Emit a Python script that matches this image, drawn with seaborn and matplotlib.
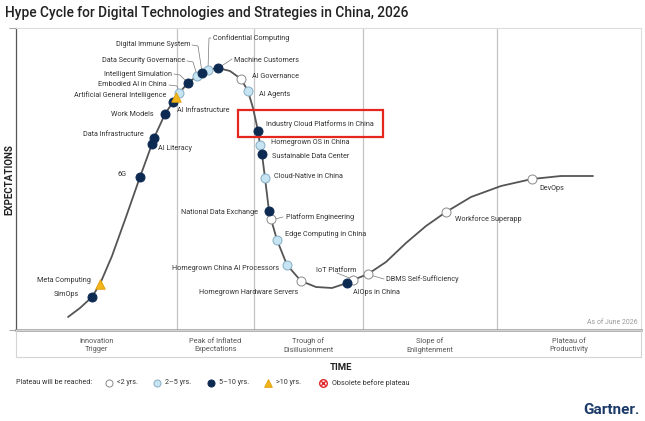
import matplotlib
matplotlib.use("Agg")
import matplotlib.pyplot as plt
from matplotlib.patches import Rectangle
import pandas as pd
import seaborn as sns

# hype curve (time position, expectation level)
curve_x = [52, 64, 76, 84, 96, 110, 124, 136, 138, 149, 157, 160, 163, 172, 181, 186, 192, 202,
           214, 225, 232, 237, 242, 244, 246, 249, 253, 255, 261, 271, 285, 300, 316, 331, 337,
           352, 370, 390, 410, 430, 455, 485, 516, 545, 577]
curve_y = [13, 22, 33, 46, 74, 113, 153, 186, 192, 216, 228, 233, 237, 247, 254, 257, 260, 262,
           259, 251, 239, 222, 199, 185, 176, 152, 119, 111, 90, 65, 49, 43, 42, 47, 50,
           56, 68, 87, 104, 118, 133, 144, 151, 154, 154]

tech_names = [
    "SimOps", "Meta Computing", "6G", "AI Literacy", "Data Infrastructure", "Work Models",
    "AI Infrastructure", "Artificial General Intelligence", "Embodied AI in China",
    "Intelligent Simulation", "Data Security Governance", "Digital Immune System",
    "Confidential Computing", "Machine Customers", "AI Governance", "AI Agents",
    "Industry Cloud Platforms in China", "Homegrown OS in China", "Sustainable Data Center",
    "Cloud-Native in China", "National Data Exchange", "Platform Engineering",
    "Edge Computing in China", "Homegrown China AI Processors", "Homegrown Hardware Servers",
    "AIOps in China", "IoT Platform", "DBMS Self-Sufficiency", "Workforce Superapp", "DevOps",
]
tech_x = [76, 84, 124, 136, 138, 149, 157, 160, 163, 172, 181, 186, 192, 202, 225, 232,
          242, 244, 246, 249, 253, 255, 261, 271, 285, 331, 337, 352, 430, 516]
tech_y = [33, 46, 153, 186, 192, 216, 228, 233, 237, 247, 254, 257, 260, 262, 251, 239,
          199, 185, 176, 152, 119, 111, 90, 65, 49, 47, 50, 56, 118, 151]
plateau = ["5-10", ">10", "5-10", "5-10", "5-10", "5-10", "5-10", ">10", "2-5", "5-10",
           "2-5", "5-10", "2-5", "5-10", "<2", "2-5", "5-10", "2-5", "5-10", "2-5",
           "5-10", "<2", "2-5", "2-5", "<2", "5-10", "<2", "<2", "<2", "<2"]

phases = ["Innovation\nTrigger", "Peak of Inflated\nExpectations", "Trough of\nDisillusionment",
          "Slope of\nEnlightenment", "Plateau of\nProductivity"]
phase_edges = [0, 161, 238, 347, 481, 625]

# label placement: (x, y, ha)
label_pos = {
    "SimOps": (63, 35, "right"), "Meta Computing": (75, 50, "right"), "6G": (111, 155, "right"),
    "AI Literacy": (142, 182, "left"), "Data Infrastructure": (128, 196, "right"),
    "Work Models": (138, 215, "right"), "Artificial General Intelligence": (150, 235, "right"),
    "AI Infrastructure": (161, 219, "left"), "Embodied AI in China": (151, 246, "right"),
    "Intelligent Simulation": (156, 256, "right"), "Data Security Governance": (169, 269, "right"),
    "Digital Immune System": (174, 285, "right"), "Confidential Computing": (197, 292, "left"),
    "Machine Customers": (218, 270, "left"), "AI Governance": (236, 253, "left"),
    "AI Agents": (243, 236, "left"), "Industry Cloud Platforms in China": (250, 206, "left"),
    "Homegrown OS in China": (255, 187, "left"), "Sustainable Data Center": (256, 173, "left"),
    "Cloud-Native in China": (258, 154, "left"), "National Data Exchange": (242, 117, "right"),
    "Platform Engineering": (270, 113, "left"), "Edge Computing in China": (269, 96, "left"),
    "Homegrown China AI Processors": (263, 62, "right"), "Homegrown Hardware Servers": (282, 38, "right"),
    "IoT Platform": (300, 59, "left"), "AIOps in China": (337, 38, "left"),
    "DBMS Self-Sufficiency": (370, 51, "left"), "Workforce Superapp": (439, 111, "left"),
    "DevOps": (523, 141, "left"),
}
leaders = [
    [(153, 245), (161, 244), (163, 238)],
    [(158, 256), (164, 255), (171, 248)],
    [(171, 269), (177, 268), (181, 255)],
    [(176, 285), (182, 284), (186, 258)],
    [(195, 292), (193, 292), (192, 261)],
    [(216, 271), (204, 263)],
    [(259, 111), (267, 113)],
    [(321, 57), (336, 51)],
    [(368, 51), (354, 55)],
]

styles = {
    "<2": dict(marker="o", color="white", edgecolor="#8a8a8a"),
    "2-5": dict(marker="o", color="#c6e4f2", edgecolor="#86aec4"),
    "5-10": dict(marker="o", color="#0d2a52", edgecolor="#0d2a52"),
    ">10": dict(marker="^", color="#f2b61c", edgecolor="#e0a20e"),
}

sns.set_theme(style="white")
plt.rcParams["font.family"] = ["Roboto", "DejaVu Sans"]

W, H = 645, 421
fig = plt.figure(figsize=(W / 100, H / 100), dpi=100)
ax = fig.add_axes([16 / W, (H - 330) / H, 625 / W, 302 / H])

sns.lineplot(x=curve_x, y=curve_y, sort=False, estimator=None, color="#555555", lw=1.3, ax=ax, zorder=2)

df = pd.DataFrame({"name": tech_names, "x": tech_x, "y": tech_y, "plateau": plateau})
for cat in ["<2", "2-5", "5-10", ">10"]:
    grp = df[df["plateau"] == cat]
    st = styles[cat]
    sns.scatterplot(data=grp, x="x", y="y", marker=st["marker"], color=st["color"],
                    edgecolor=st["edgecolor"], linewidth=0.7, s=42 if st["marker"] == "o" else 46,
                    ax=ax, zorder=4)

for name in tech_names:
    lx, ly, ha = label_pos[name]
    ax.text(lx, ly, name, ha=ha, va="center", fontsize=5.2, color="#333333")

for pts in leaders:
    ax.plot([p[0] for p in pts], [p[1] for p in pts], color="#777777", lw=0.5, zorder=1)

for xe in phase_edges[1:-1]:
    ax.axvline(xe, color="#c4c4c4", lw=0.9, zorder=0)

ax.add_patch(Rectangle((222, 193), 145, 27, fill=False, edgecolor="#e5261f", lw=1.6, zorder=5))

ax.set_xlim(0, 625)
ax.set_ylim(0, 302)
ax.set_xlabel("")
ax.set_ylabel("")
ax.set_xticks([])
ax.set_yticks([0, 302])
ax.set_yticklabels([])
ax.tick_params(axis="y", left=True, length=5, color="#aaaaaa", width=0.8)
ax.spines["left"].set_color("#555555")
ax.spines["left"].set_linewidth(0.9)
ax.spines["bottom"].set_color("#9a9a9a")
ax.spines["bottom"].set_linewidth(1.8)
for s in ["top", "right"]:
    ax.spines[s].set_color("#dddddd")
    ax.spines[s].set_linewidth(0.8)

# overlay in pixel coordinates for surrounding text
ov = fig.add_axes([0, 0, 1, 1], facecolor="none")
ov.set_xlim(0, W)
ov.set_ylim(H, 0)
ov.axis("off")

ov.text(5, 13, "Hype Cycle for Digital Technologies and Strategies in China, 2026",
        ha="left", va="center", fontsize=9.9, color="#222222", fontweight="medium")
ov.text(9, 180, "EXPECTATIONS", rotation=90, ha="center", va="center", fontsize=7,
        fontweight="bold", color="#222222")
ov.add_patch(Rectangle((16, 330), 625, 27, fill=False, edgecolor="#d4d4d4", lw=0.8))
for i, ph in enumerate(phases):
    cx = 16 + (phase_edges[i] + phase_edges[i + 1]) / 2
    ov.text(cx, 345.5, ph, ha="center", va="center", fontsize=5.3, color="#555555", linespacing=1.35)
ov.text(341, 367, "TIME", ha="center", va="center", fontsize=6.8, fontweight="bold", color="#222222")
ov.text(638, 323, "As of June 2026", ha="right", va="center", fontsize=5, color="#9a9a9a")

# legend row
ly = 383
ov.text(16, ly, "Plateau will be reached:", ha="left", va="center", fontsize=5.2, color="#333333")
legend_items = [("<2", 109, "<2 yrs."), ("2-5", 157, "2\u20135 yrs."), ("5-10", 211, "5\u201310 yrs."),
                (">10", 268, ">10 yrs.")]
for cat, mx, txt in legend_items:
    st = styles[cat]
    ov.scatter([mx], [ly], marker=st["marker"], c=st["color"], edgecolors=st["edgecolor"],
               linewidths=0.7, s=26 if st["marker"] == "o" else 30)
    ov.text(mx + 8, ly, txt, ha="left", va="center", fontsize=5.2, color="#333333")
ov.scatter([323], [ly], marker="o", c="white", edgecolors="#e0282a", linewidths=1.0, s=30)
ov.scatter([323], [ly], marker="x", c="#e0282a", linewidths=1.0, s=10)
ov.text(332, ly, "Obsolete before plateau", ha="left", va="center", fontsize=5.2, color="#333333")

ov.text(640, 410, "Gartner.", ha="right", va="center", fontsize=11, fontweight="bold", color="#1b3a68")

fig.savefig("out.png", dpi=100)
